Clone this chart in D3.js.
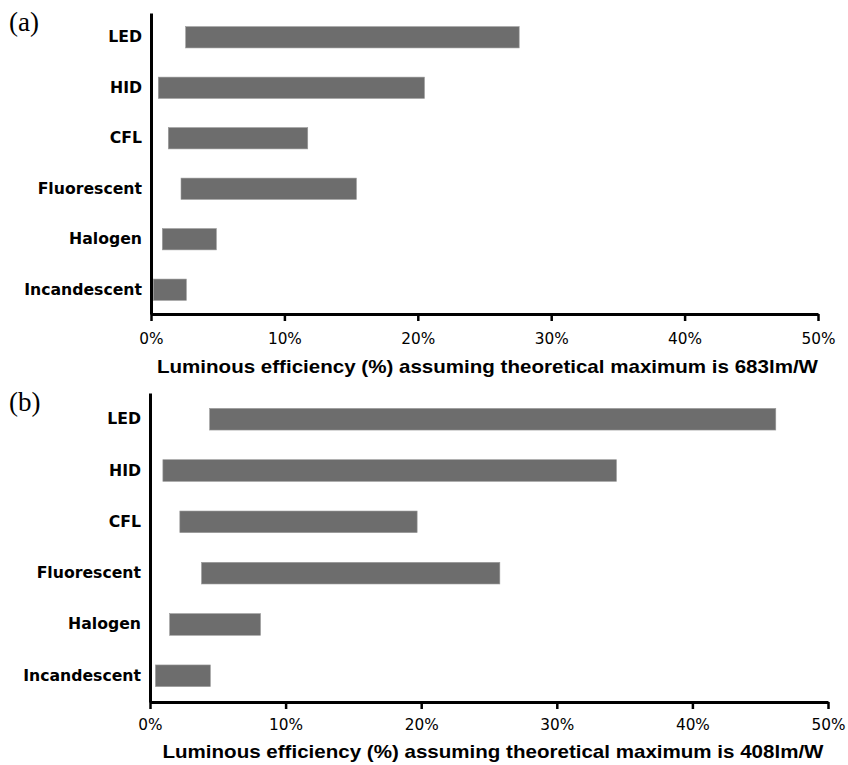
<!DOCTYPE html>
<html>
<head>
<meta charset="utf-8">
<script src="https://cdn.jsdelivr.net/npm/d3@7"></script>
<style>
  html, body { margin: 0; padding: 0; background: #fff; }
  svg { display: block; }
</style>
</head>
<body>
<svg id="chart" width="848" height="765"></svg>
<script>
// ---- data ----
const categories = ["LED", "HID", "CFL", "Fluorescent", "Halogen", "Incandescent"];
// panel (a): theoretical maximum 683 lm/W  (percent)
const lowA  = [2.6, 0.55, 1.3, 2.25, 0.85, 0.17];
const highA = [27.6, 20.5, 11.75, 15.4, 4.9, 2.65];
// panel (b): theoretical maximum 408 lm/W  (percent)
const lowB  = [4.4, 0.95, 2.2, 3.8, 1.45, 0.4];
const highB = [46.15, 34.4, 19.7, 25.8, 8.15, 4.45];
const tickValues = [0, 10, 20, 30, 40, 50];
const panelLabels = ["(a)", "(b)"];
const axisTitles = [
  "Luminous efficiency (%) assuming theoretical maximum is 683lm/W",
  "Luminous efficiency (%) assuming theoretical maximum is 408lm/W"
];

const svg = d3.select("#chart");
const barColor = "#6d6d6d";

const panels = [
  { low: lowA, high: highA, x0: 151, x1: 818, yTop: 13, yBot: 314, po: 0.27,
    pad: 12, titleX: 487.5, titleY: 372.5, label: panelLabels[0], labelY: 31, title: axisTitles[0] },
  { low: lowB, high: highB, x0: 150, x1: 828, yTop: 393, yBot: 702, po: 0.30,
    pad: 10, titleX: 493, titleY: 757.5, label: panelLabels[1], labelY: 411, title: axisTitles[1] }
];

panels.forEach(p => {
  const g = svg.append("g");
  const x = d3.scaleLinear().domain([0, 50]).range([p.x0, p.x1]);
  const y = d3.scaleBand().domain(categories).range([p.yTop, p.yBot])
    .paddingInner(0.578).paddingOuter(p.po);

  // bars
  g.selectAll("rect.bar")
    .data(categories.map((c, i) => ({ c, lo: p.low[i], hi: p.high[i] })))
    .join("rect")
    .attr("class", "bar")
    .attr("x", d => x(d.lo))
    .attr("width", d => x(d.hi) - x(d.lo))
    .attr("y", d => y(d.c))
    .attr("height", y.bandwidth())
    .attr("fill", barColor)
    .attr("stroke", "#9a9a9a")
    .attr("stroke-width", 0.6);

  // x axis
  const xAxis = g.append("g")
    .attr("transform", `translate(0,${p.yBot})`)
    .call(d3.axisBottom(x).tickValues(tickValues).tickFormat(d => d + "%")
      .tickSize(7).tickSizeOuter(0).tickPadding(p.pad));
  xAxis.select(".domain").attr("stroke", "#000").attr("stroke-width", 3);
  xAxis.selectAll(".tick line").attr("stroke", "#000").attr("stroke-width", 2.5);
  xAxis.selectAll(".tick text")
    .attr("font-family", "'DejaVu Sans', sans-serif")
    .attr("font-size", 15.3)
    .attr("fill", "#000");

  // y axis
  const yAxis = g.append("g")
    .attr("transform", `translate(${p.x0},0)`)
    .call(d3.axisLeft(y).tickSize(0).tickPadding(9));
  yAxis.select(".domain").attr("stroke", "#000").attr("stroke-width", 3);
  yAxis.selectAll(".tick text")
    .attr("font-family", "'DejaVu Sans', sans-serif")
    .attr("font-weight", "bold")
    .attr("font-size", 15.7)
    .attr("fill", "#000");

  // axis title
  g.append("text")
    .attr("x", p.titleX)
    .attr("y", p.titleY)
    .attr("text-anchor", "middle")
    .attr("font-family", "'Liberation Sans', Arial, sans-serif")
    .attr("font-weight", "bold")
    .attr("font-size", 18.5)
    .attr("textLength", 661)
    .attr("lengthAdjust", "spacingAndGlyphs")
    .attr("fill", "#000")
    .text(p.title);

  // panel label
  g.append("text")
    .attr("x", 9)
    .attr("y", p.labelY)
    .attr("font-family", "'Liberation Serif', 'Times New Roman', serif")
    .attr("font-size", 27)
    .attr("fill", "#000")
    .text(p.label);
});
</script>
</body>
</html>
